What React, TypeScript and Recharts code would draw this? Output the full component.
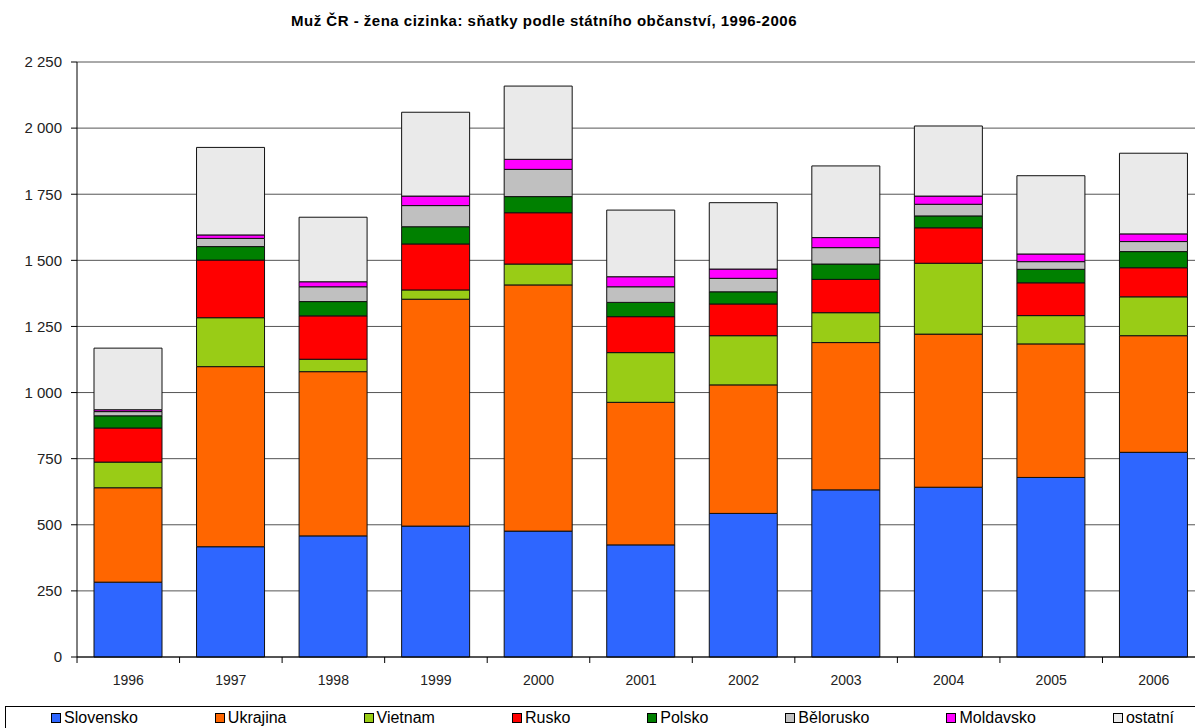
import React from "react";
import { BarChart, Bar, XAxis, YAxis, CartesianGrid } from "recharts";

const years = ["1996", "1997", "1998", "1999", "2000", "2001", "2002", "2003", "2004", "2005", "2006"];

const slovensko = [283, 417, 458, 495, 476, 424, 543, 632, 642, 679, 774];
const ukrajina = [357, 681, 621, 858, 931, 539, 486, 557, 579, 505, 441];
const vietnam = [97, 185, 47, 35, 79, 188, 186, 113, 268, 107, 147];
const rusko = [129, 218, 164, 174, 194, 136, 120, 126, 134, 124, 110];
const polsko = [46, 51, 54, 65, 61, 54, 46, 58, 45, 51, 61];
const belorusko = [16, 31, 56, 80, 103, 59, 51, 62, 44, 29, 38];
const moldavsko = [7, 13, 19, 36, 38, 38, 35, 38, 31, 29, 29];
const ostatni = [233, 331, 244, 317, 277, 252, 251, 271, 265, 296, 305];

const yTicks = [0, 250, 500, 750, 1000, 1250, 1500, 1750, 2000, 2250];

const series = [
  { key: "slovensko", name: "Slovensko", color: "#2E66FF", values: slovensko },
  { key: "ukrajina", name: "Ukrajina", color: "#FF6600", values: ukrajina },
  { key: "vietnam", name: "Vietnam", color: "#99CC16", values: vietnam },
  { key: "rusko", name: "Rusko", color: "#FF0000", values: rusko },
  { key: "polsko", name: "Polsko", color: "#008000", values: polsko },
  { key: "belorusko", name: "Bělorusko", color: "#C0C0C0", values: belorusko },
  { key: "moldavsko", name: "Moldavsko", color: "#FF00FF", values: moldavsko },
  { key: "ostatni", name: "ostatní", color: "#EAEAEA", values: ostatni },
];

const data = years.map((year, i) => {
  const row: Record<string, string | number> = { year };
  series.forEach((s) => {
    row[s.key] = s.values[i];
  });
  return row;
});

const FONT = "'Liberation Sans', Arial, sans-serif";
const BAND = 102.5;

function fmt(v: number) {
  return String(v).replace(/\B(?=(\d{3})+(?!\d))/g, " ");
}

function XTick(props: any) {
  const { x, y, payload } = props;
  return (
    <g>
      <line x1={x - BAND / 2} x2={x - BAND / 2} y1={y - 8} y2={y - 2} stroke="#000" />
      <text x={x} y={y + 20} textAnchor="middle" fontSize={14} fill="#222" fontFamily={FONT}>
        {payload.value}
      </text>
    </g>
  );
}

export default function App() {
  return (
    <div
      style={{
        position: "absolute",
        left: 0,
        top: 0,
        width: 1195,
        height: 728,
        overflow: "hidden",
        background: "#fff",
        fontFamily: FONT,
      }}
    >
      <div
        style={{
          position: "absolute",
          top: 12,
          left: 0,
          width: 1088,
          textAlign: "center",
          fontSize: 15,
          letterSpacing: 0.5,
          fontWeight: "bold",
          color: "#000",
        }}
      >
        Muž ČR - žena cizinka: sňatky podle státního občanství, 1996-2006
      </div>

      <BarChart
        width={1205}
        height={728}
        data={data}
        margin={{ top: 62, right: 0, left: 16, bottom: 41 }}
        barSize={68}
      >
        <CartesianGrid vertical={false} stroke="#555" strokeWidth={1} />
        <XAxis
          dataKey="year"
          axisLine={{ stroke: "#000" }}
          tickLine={false}
          tick={<XTick />}
          interval={0}
          height={30}
        />
        <YAxis
          domain={[0, 2250]}
          ticks={yTicks}
          interval={0}
          width={61}
          axisLine={{ stroke: "#000" }}
          tickLine={{ stroke: "#000" }}
          tickSize={6}
          tickMargin={9}
          tickFormatter={fmt}
          tick={{ fontSize: 15, fill: "#222", fontFamily: FONT }}
        />
        {series.map((s) => (
          <Bar
            key={s.key}
            dataKey={s.key}
            name={s.name}
            stackId="a"
            fill={s.color}
            stroke="#111"
            strokeWidth={1}
            isAnimationActive={false}
          />
        ))}
      </BarChart>

      <div
        style={{
          position: "absolute",
          top: 706,
          left: 5,
          width: 1200,
          height: 40,
          border: "1px solid #000",
          boxSizing: "border-box",
        }}
      >
        <div
          style={{
            position: "absolute",
            left: 45,
            top: 2,
            display: "flex",
            gap: 77,
            fontSize: 16,
            color: "#000",
          }}
        >
          {series.map((s) => (
            <div key={s.key} style={{ display: "flex", alignItems: "center", whiteSpace: "nowrap" }}>
              <span
                style={{
                  display: "inline-block",
                  width: 8,
                  height: 8,
                  background: s.color,
                  border: "1px solid #000",
                  marginRight: 3,
                }}
              />
              {s.name}
            </div>
          ))}
        </div>
      </div>
    </div>
  );
}
